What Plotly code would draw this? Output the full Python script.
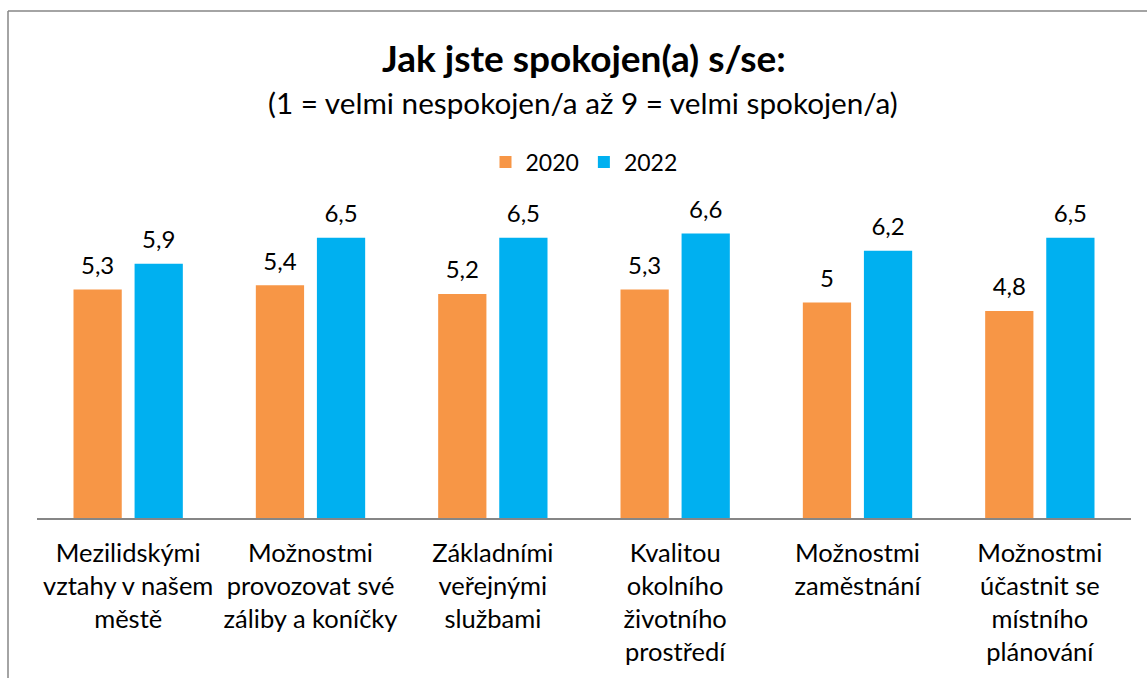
import plotly.graph_objects as go

categories = [
    "Mezilidskými<br>vztahy v našem<br>městě",
    "Možnostmi<br>provozovat své<br>záliby a koníčky",
    "Základními<br>veřejnými<br>službami",
    "Kvalitou<br>okolního<br>životního<br>prostředí",
    "Možnostmi<br>zaměstnání",
    "Možnostmi<br>účastnit se<br>místního<br>plánování",
]
values_2020 = [5.3, 5.4, 5.2, 5.3, 5.0, 4.8]
values_2022 = [5.9, 6.5, 6.5, 6.6, 6.2, 6.5]
series_names = ["2020", "2022"]
colors = ["#F79646", "#00B0F0"]


def fmt(v):
    return ("%g" % v).replace(".", ",")


FONT = "Lato, 'Open Sans', sans-serif"

fig = go.Figure()
for name, vals, col in zip(series_names, [values_2020, values_2022], colors):
    fig.add_trace(go.Bar(
        name=name,
        x=categories,
        y=vals,
        offsetgroup=name,
        marker=dict(color=col, line=dict(width=0)),
        hoverinfo="skip",
    ))
for name, vals in zip(series_names, [values_2020, values_2022]):
    fig.add_trace(go.Scatter(
        x=categories,
        y=vals,
        offsetgroup=name,
        mode="markers+text",
        marker=dict(size=14, opacity=0),
        text=[fmt(v) for v in vals],
        textposition="top center",
        textfont=dict(size=24, color="black", family=FONT),
        showlegend=False,
        cliponaxis=False,
        hoverinfo="skip",
    ))

# plot area geometry in pixels
W, H = 1147, 678
L, R, T, B = 37, 16, 190, 160
pw = W - L - R
ph = H - T - B

fig.update_layout(
    width=W, height=H,
    margin=dict(l=L, r=R, t=T, b=B),
    paper_bgcolor="white",
    plot_bgcolor="white",
    font=dict(family=FONT, color="black"),
    barmode="group",
    scattermode="group",
    bargap=0.33,
    scattergap=0.33,
    bargroupgap=0.21,
    showlegend=True,
    legend=dict(
        orientation="h",
        x=0.5, xanchor="center",
        y=(H - B - 162) / ph, yanchor="middle",
        font=dict(size=23, family=FONT),
        itemwidth=30,
        traceorder="normal",
    ),
    annotations=[
        dict(text="<b>Jak jste spokojen(a) s/se:</b>", xref="paper", yref="paper",
             x=0.5 + (584 - (L + pw / 2)) / pw, y=(H - B - 57) / ph,
             xanchor="center", yanchor="middle", showarrow=False,
             font=dict(size=37, family=FONT, color="black")),
        dict(text="(1 = velmi nespokojen/a až 9 = velmi spokojen/a)", xref="paper", yref="paper",
             x=0.5 + (583 - (L + pw / 2)) / pw, y=(H - B - 102) / ph,
             xanchor="center", yanchor="middle", showarrow=False,
             font=dict(size=29.7, family=FONT, color="black")),
    ],
    shapes=[
        dict(type="line", xref="paper", yref="paper",
             x0=(8 - L) / pw, x1=(8 - L) / pw,
             y0=(H - B - 11) / ph, y1=(H - B - 700) / ph,
             line=dict(color="#868686", width=1.5)),
        dict(type="line", xref="paper", yref="paper",
             x0=(8 - L) / pw, x1=(1200 - L) / pw,
             y0=(H - B - 11) / ph, y1=(H - B - 11) / ph,
             line=dict(color="#868686", width=1.5)),
    ],
)

fig.update_xaxes(
    showline=True, linecolor="#868686", linewidth=2,
    showgrid=False, ticks="",
    tickfont=dict(size=25.5, family=FONT, color="black"),
    ticklabelstandoff=11,
    tickangle=0,
)
fig.update_yaxes(
    range=[0, ph / 43.1],
    showgrid=False, showline=False, showticklabels=False, zeroline=False, ticks="",
)

fig.write_html("out.html", post_script="document.body.style.margin='0';",
               config={"displayModeBar": False})
